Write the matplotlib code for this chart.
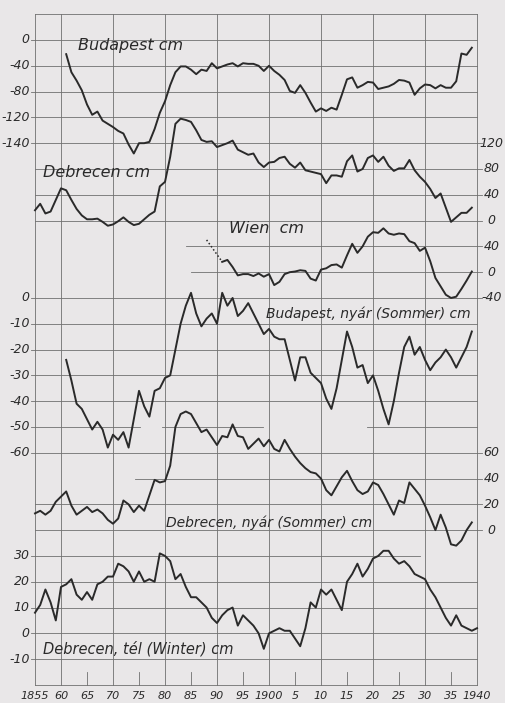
import matplotlib.pyplot as plt

# ---- values (cm) ----
bud_years = list(range(1861, 1940))
bud_cm = [-22, -50, -63, -78, -100, -116, -111, -125, -130,
          -135, -141, -145, -162, -176, -160, -160, -158, -138, -113,
          -95, -70, -50, -41, -41, -46, -53, -46, -48, -36,
          -44, -41, -38, -36, -41, -36, -37, -37, -40, -48,
          -40, -48, -54, -62, -79, -82, -70, -82, -97, -111,
          -106, -110, -105, -108, -85, -61, -58, -74, -70, -65,
          -66, -76, -74, -72, -68, -62, -63, -66, -85, -75,
          -69, -70, -75, -70, -74, -74, -64, -21, -23, -12]

deb_years = list(range(1855, 1940))
deb_cm = [16, 26, 11, 14, 32,
          50, 47, 32, 18, 8, 2, 2, 3, -2, -8,
          -6, -1, 5, -2, -7, -5, 2, 9, 14, 53,
          60, 99, 150, 158, 156, 153, 140, 125, 122, 123,
          114, 117, 120, 124, 110, 106, 102, 104, 90, 83,
          90, 91, 97, 99, 88, 82, 90, 78, 76, 74,
          72, 58, 70, 70, 68, 92, 101, 76, 80, 97,
          101, 91, 99, 85, 77, 81, 81, 94, 78, 68,
          60, 49, 35, 42, 20, -2, 5, 12, 12, 20]

wien_est_years = [1888, 1891]
wien_est_cm = [50, 16]
wien_years = list(range(1891, 1940))
wien_cm = [16, 19, 8, -5, -3, -3, -6, -2, -7,
           -3, -20, -15, -3, 0, 1, 3, 2, -10, -13,
           4, 6, 11, 12, 7, 26, 44, 30, 40, 55,
           62, 61, 68, 60, 58, 60, 59, 48, 45, 33,
           38, 17, -9, -22, -35, -40, -38, -26, -13, 1]

bud_summer_years = list(range(1861, 1940))
bud_summer = [-24, -32, -41, -43, -47, -51, -48, -51, -58,
              -53, -55, -52, -58, -47, -36, -42, -46, -36, -35,
              -31, -30, -20, -10, -3, 2, -6, -11, -8, -6,
              -10, 2, -3, 0, -7, -5, -2, -6, -10, -14,
              -12, -15, -16, -16, -24, -32, -23, -23, -29, -31,
              -33, -39, -43, -35, -24, -13, -19, -27, -26, -33,
              -30, -36, -43, -49, -40, -29, -19, -15, -22, -19,
              -24, -28, -25, -23, -20, -23, -27, -23, -19, -13]

deb_summer_years = list(range(1855, 1940))
deb_summer = [13, 15, 12, 15, 22,
              26, 30, 19, 12, 15, 18, 14, 16, 13, 8,
              5, 9, 23, 20, 14, 19, 15, 27, 39, 37,
              38, 50, 80, 90, 92, 90, 83, 76, 78, 72,
              66, 73, 72, 82, 73, 72, 63, 67, 71, 65,
              70, 63, 61, 70, 63, 57, 52, 48, 45, 44,
              40, 31, 27, 34, 41, 46, 38, 31, 28, 30,
              37, 35, 28, 20, 12, 23, 21, 37, 32, 27,
              19, 10, 0, 12, 2, -11, -12, -8, 0, 6]

deb_winter_years = list(range(1855, 1941))
deb_winter = [8, 11, 17, 12, 5,
              18, 19, 21, 15, 13, 16, 13, 19, 20, 22,
              22, 27, 26, 24, 20, 24, 20, 21, 20, 31,
              30, 28, 21, 23, 18, 14, 14, 12, 10, 6,
              4, 7, 9, 10, 3, 7, 5, 3, 0, -6,
              0, 1, 2, 1, 1, -2, -5, 2, 12, 10,
              17, 15, 17, 13, 9, 20, 23, 27, 22, 25,
              29, 30, 32, 32, 29, 27, 28, 26, 23, 22,
              21, 17, 14, 10, 6, 3, 7, 3, 2, 1, 2]

# printed scale labels
bud_ticks = ['0', '-40', '-80', '-120', '-140']
deb_ticks = ['120', '80', '40', '0']
wien_ticks = ['40', '0', '-40']
bud_summer_ticks = ['0', '-10', '-20', '-30', '-40', '-50', '-60']
deb_summer_ticks = ['60', '40', '20', '0']
deb_winter_ticks = ['30', '20', '10', '0', '-10']
year_labels = ['1855', '60', '65', '70', '75', '80', '85', '90', '95', '1900',
               '5', '10', '15', '20', '25', '30', '35', '1940']

paper = '#e9e7e8'
ink = '#2a2a2a'
grid = '#707070'


def rows(values, zero_row, per_row):
    # every curve shares one grid; each has its own zero line and cm per grid step
    return [zero_row - v / per_row for v in values]


fig = plt.figure(figsize=(5.05, 7.03), dpi=100)
fig.patch.set_facecolor(paper)
ax = fig.add_axes([0, 0, 1, 1])
ax.set_facecolor(paper)
ax.set_xlim(1848.27, 1945.38)
ax.set_ylim(25.70, -1.55)
ax.axis('off')

# horizontal grid (a few lines are only partly drawn in the original)
partial = {8: [(1884, 1940)], 9: [(1885, 1940)],
           15: [(1855, 1875.2), (1879.5, 1898.9), (1918.8, 1940)],
           17: [(1874.2, 1940)], 20: [(1855, 1929)]}
for k in range(-1, 26):
    for a, b in partial.get(k, [(1855, 1940)]):
        ax.plot([a, b], [k, k], color=grid, lw=0.6, zorder=1)

# vertical grid: borders and every ten years
for yr in [1855] + list(range(1860, 1941, 10)):
    ax.plot([yr, yr], [-1, 25], color=grid, lw=0.6, zorder=1)
for yr in range(1865, 1940, 10):
    ax.plot([yr, yr], [24.5, 25], color=grid, lw=0.6, zorder=1)

# curves
lw = 1.4
ax.plot(bud_years, rows(bud_cm, 0, 40), color=ink, lw=lw, zorder=3)
ax.plot(deb_years, rows(deb_cm, 7, 40), color=ink, lw=lw, zorder=3)
ax.plot(wien_est_years, rows(wien_est_cm, 9, 40), color=ink, lw=1.1,
        ls=(0, (1, 1.5)), zorder=3)
ax.plot(wien_years, rows(wien_cm, 9, 40), color=ink, lw=lw, zorder=3)
ax.plot(bud_summer_years, rows(bud_summer, 10, 10), color=ink, lw=lw, zorder=3)
ax.plot(deb_summer_years, rows(deb_summer, 19, 20), color=ink, lw=lw, zorder=3)
ax.plot(deb_winter_years, rows(deb_winter, 23, 10), color=ink, lw=lw, zorder=3)

# scale labels, left and right
tfont = dict(fontsize=9, style='italic', color=ink, va='center')
for labels, start in [(bud_ticks, 0), (bud_summer_ticks, 10), (deb_winter_ticks, 20)]:
    for i, t in enumerate(labels):
        ax.text(1854.0, start + i, t, ha='right', **tfont)
        ax.plot([1854.2, 1855], [start + i] * 2, color=grid, lw=0.6)
for labels, start in [(deb_ticks, 4), (wien_ticks, 8), (deb_summer_ticks, 16)]:
    for i, t in enumerate(labels):
        ax.text(1942.8, start + i, t, ha='center', **tfont)
        ax.plot([1940, 1941], [start + i] * 2, color=grid, lw=0.6)

# year axis
for yr, t in zip([1855] + list(range(1860, 1941, 5)), year_labels):
    ax.text(yr, 25.42, t, ha='center', va='center', fontsize=8,
            style='italic', color=ink)

# curve names
nfont = dict(fontsize=11.5, style='italic', color=ink, va='center')
ax.text(1863.3, 0.2, 'Budapest cm', **nfont)
ax.text(1856.5, 5.15, 'Debrecen cm', **nfont)
ax.text(1892.3, 7.3, 'Wien  cm', **nfont)
ax.text(1899.5, 10.6, 'Budapest, nyár (Sommer) cm', fontsize=10,
        style='italic', color=ink, va='center')
ax.text(1880.2, 18.7, 'Debrecen, nyár (Sommer) cm', fontsize=10,
        style='italic', color=ink, va='center')
ax.text(1856.5, 23.6, 'Debrecen, tél (Winter) cm', fontsize=10.5,
        style='italic', color=ink, va='center')

fig.savefig('out.png', dpi=100, facecolor=paper)
